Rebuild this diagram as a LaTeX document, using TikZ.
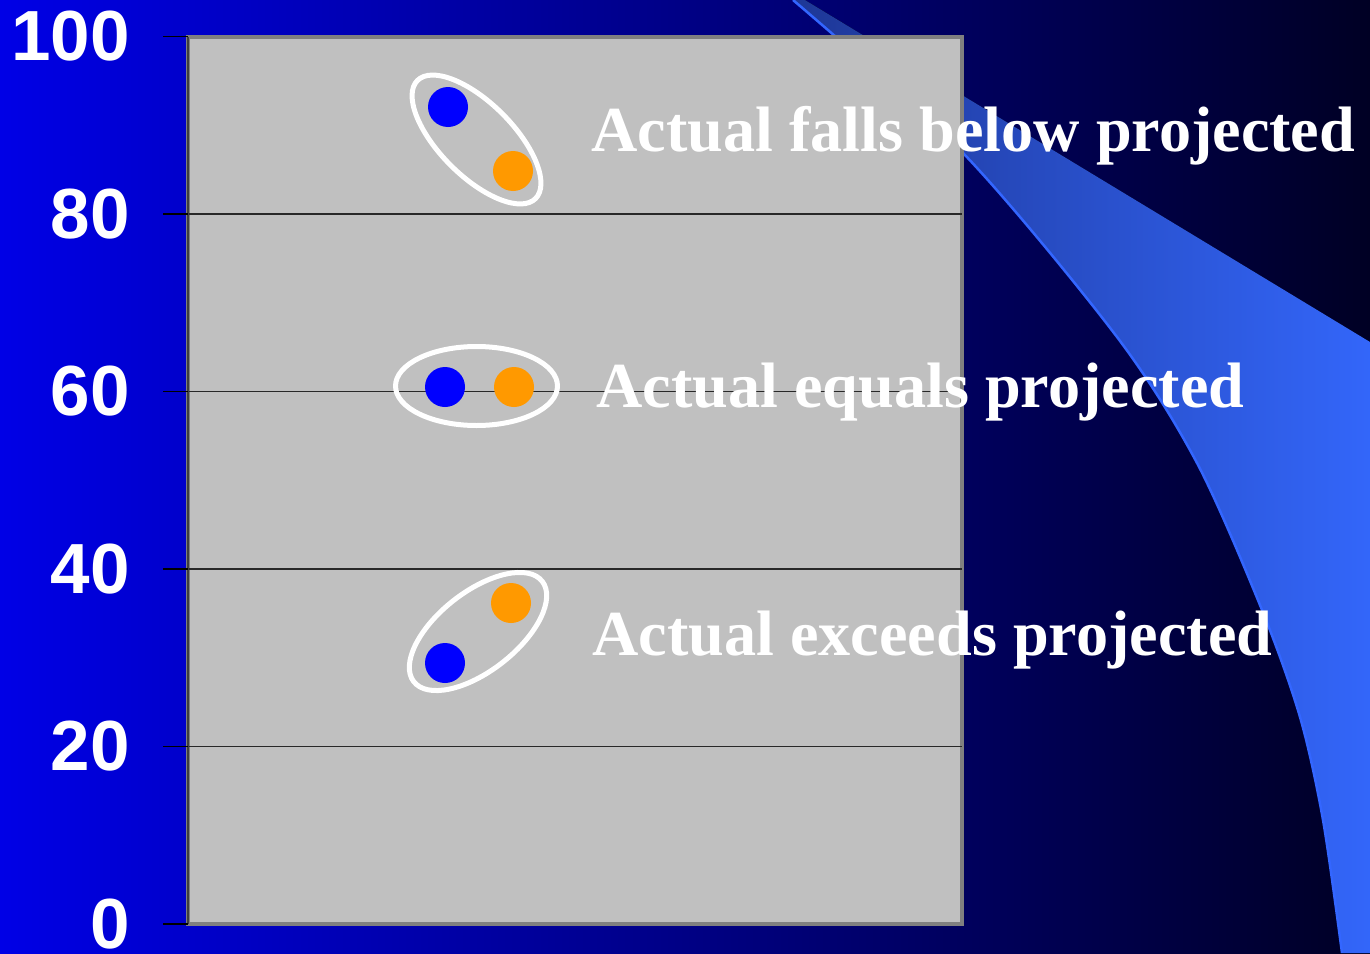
\documentclass[tikz,border=0pt]{standalone}
\usepackage{fontspec}
\setmainfont{Liberation Serif}
\newfontfamily\axisfont{Liberation Sans}
\definecolor{bgleft}{RGB}{0,0,230}
\definecolor{bgmid}{RGB}{0,0,150}
\definecolor{bgright}{RGB}{0,0,36}
\definecolor{swleft}{RGB}{30,55,150}
\definecolor{swmid}{RGB}{46,90,225}
\definecolor{swright}{RGB}{51,102,250}
\definecolor{swedge}{RGB}{51,102,255}
\definecolor{plotgray}{RGB}{192,192,192}
\definecolor{framegray}{RGB}{128,128,128}
\definecolor{gridgray}{RGB}{40,40,40}
\definecolor{actblue}{RGB}{0,0,255}
\definecolor{projorange}{RGB}{255,153,0}

\begin{document}
\begin{tikzpicture}[x=0.5pt,y=-0.5pt,
  dot/.style={circle,inner sep=0pt,minimum size=20pt},
  ring/.style={draw=white,line width=2.5pt},
  gridline/.style={draw=gridgray,line width=0.8pt},
  ticklabel/.style={anchor=east,inner sep=0pt,text=white,font=\axisfont\bfseries\fontsize{35.5}{41}\selectfont},
  caption/.style={anchor=base west,inner sep=0pt,text=white,font=\bfseries\fontsize{32.1}{38}\selectfont}]

\useasboundingbox (0,0) rectangle (1370,953);
\fill[left color=bgleft,middle color=bgmid,right color=bgright] (0,0) rectangle (1370,953);

\fill[left color=swleft,middle color=swmid,right color=swright]
  plot[smooth] coordinates {(793,0) (963,153) (1117,337) (1197,463) (1262,610) (1300,717) (1323,820) (1342,953)}
  -- (1370,953) -- (1370,342) -- (805,0) -- cycle;
\draw[swedge,line width=1.25pt]
  plot[smooth] coordinates {(793,0) (963,153) (1117,337) (1197,463) (1262,610) (1300,717) (1323,820) (1342,953)};

\draw[fill=plotgray,draw=framegray,line width=1.75pt] (188,37) rectangle (962,924);
\foreach \v in {20,40,60,80} \draw[gridline] (188,{924-8.875*\v}) -- (962,{924-8.875*\v});
\draw[black!75,line width=1.2pt] (188,37) -- (188,924);
\foreach \v in {0,20,...,100}
{\draw[black,line width=0.9pt] (163,{924-8.875*\v}) -- (188,{924-8.875*\v});
\node[ticklabel] (y\v) at (130,{924-8.875*\v}) {\v};}

\draw[ring] (476.5,139.5) ellipse [x radius=83.5,y radius=36.5,rotate=-45];
\draw[ring] (476.5,386) ellipse [x radius=81,y radius=39.5];
\draw[ring] (478,631.5) ellipse [x radius=81.5,y radius=39.5,rotate=38];

\node[dot,fill=actblue] (act1) at (448,107) {};
\node[dot,fill=projorange] (proj1) at (513,171) {};
\node[dot,fill=actblue] (act2) at (445,387) {};
\node[dot,fill=projorange] (proj2) at (514,387) {};
\node[dot,fill=actblue] (act3) at (445,663) {};
\node[dot,fill=projorange] (proj3) at (511,603) {};

\node[caption] (below) at (591,151) {Actual falls below projected};
\node[caption] (equals) at (596,407) {Actual equals projected};
\node[caption] (exceeds) at (592,655) {Actual exceeds projected};

\end{tikzpicture}
\end{document}
